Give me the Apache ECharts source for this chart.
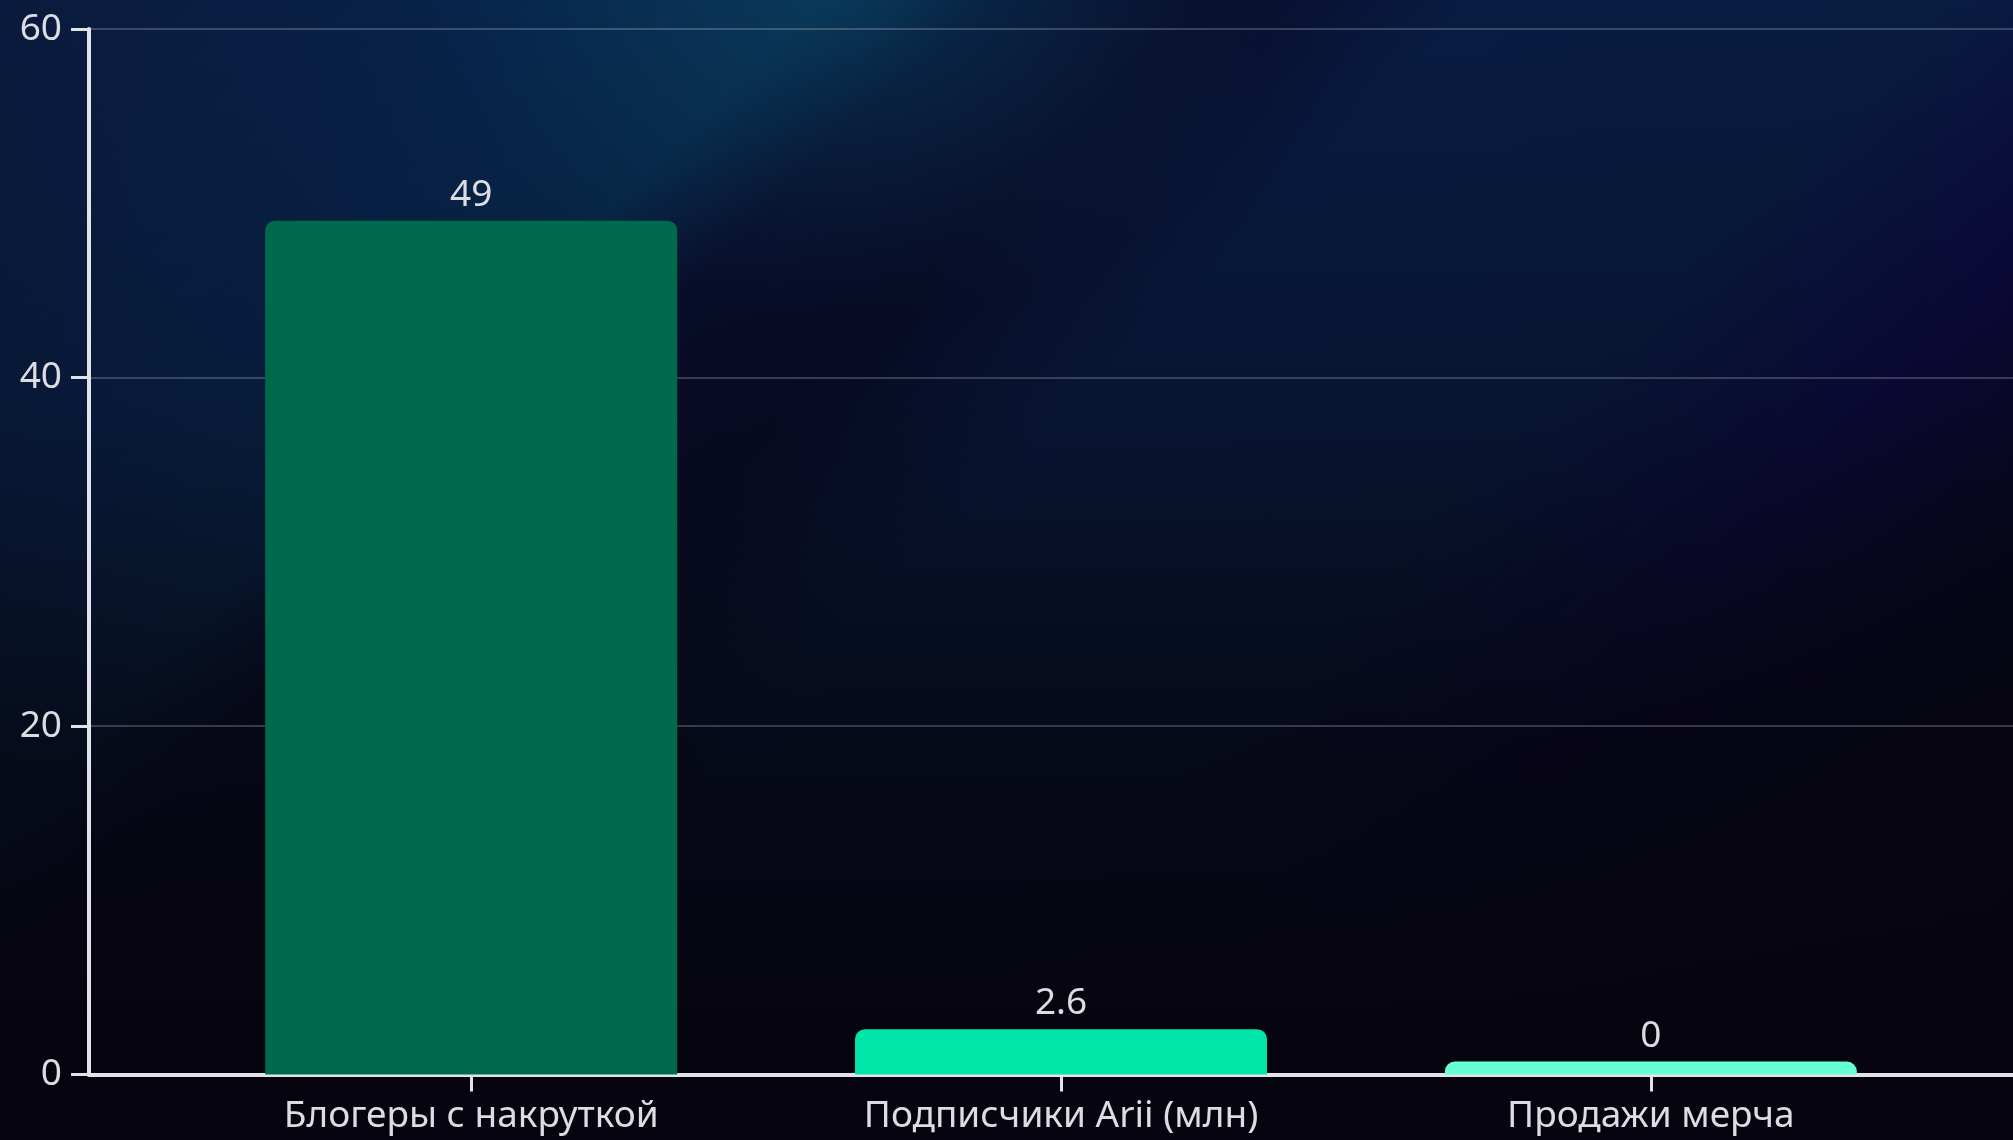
<!DOCTYPE html>
<html>
<head>
    <meta charset="utf-8">
    <title></title>
    <script type="text/javascript" src="https://cdn.jsdelivr.net/npm/echarts@6/dist/echarts.min.js"></script>
    <style>
        html, body { margin: 0; padding: 0; }
        #main {
            width: 2013px;
            height: 1140px;
            background:
                linear-gradient(to bottom, rgba(6,5,15,0) 0%, rgba(6,5,15,0.3) 35%, rgba(6,5,15,0.8) 65%, rgba(6,5,15,1) 90%),
                radial-gradient(ellipse 420px 320px at 850px 0px, rgba(10,70,100,0.55), rgba(10,70,100,0) 100%),
                linear-gradient(135deg, #0a1a3c 0%, #08244c 18%, #082a4e 26%, #080f30 31%, #080c2a 38%, #081c42 47%, #081c40 62%, #0c0a40 72%, #07061c 84%, #06050f 100%);
        }
    </style>
</head>
<body>

<div id="main"></div>
<script type="text/javascript">
    // данные
    var categories = ['Блогеры с накруткой', 'Подписчики Arii (млн)', 'Продажи мерча'];
    var values = [49, 2.6, 0];
    var colors = ['#006b4c', '#00e6a8', '#66ffd2'];
    var yTicks = [0, 20, 40, 60];

    var myChart = echarts.init(document.getElementById('main'));

    var barData = values.map(function (v, i) {
        return { value: [i, v], itemStyle: { color: colors[i] } };
    });

    var option = {
        backgroundColor: 'transparent',
        textStyle: { fontFamily: 'Noto Sans' },
        grid: { left: 89, right: 0, top: 29, bottom: 65.5, containLabel: false },
        xAxis: {
            type: 'value',
            min: -0.648,
            max: 2.614,
            axisLine: { show: true, onZero: false, lineStyle: { color: '#e2e3e8', width: 4 } },
            axisTick: { show: true, length: 17, lineStyle: { color: '#e2e3e8', width: 3 }, customValues: [0, 1, 2] },
            axisLabel: {
                customValues: [0, 1, 2],
                margin: 23,
                color: '#dcdde3',
                fontSize: 37,
                fontFamily: 'Noto Sans',
                formatter: function (v) { return categories[Math.round(v)]; }
            },
            splitLine: { show: false }
        },
        yAxis: {
            type: 'value',
            min: yTicks[0],
            max: yTicks[yTicks.length - 1],
            interval: 20,
            axisLine: { show: true, onZero: false, lineStyle: { color: '#e2e3e8', width: 4 } },
            axisTick: { show: true, length: 18, lineStyle: { color: '#e2e3e8', width: 3 } },
            axisLabel: { margin: 27, color: '#dcdde3', fontSize: 37, fontFamily: 'Noto Sans' },
            splitLine: { show: true, lineStyle: { color: 'rgba(255,255,255,0.2)', width: 2 } }
        },
        series: [{
            type: 'bar',
            data: barData,
            barWidth: 412,
            barMinHeight: 13,
            itemStyle: { borderRadius: [10, 10, 0, 0] },
            label: {
                show: true,
                position: 'top',
                distance: 7,
                color: '#dcdde3',
                fontSize: 37,
                fontFamily: 'Noto Sans',
                formatter: function (p) { return String(values[p.dataIndex]); }
            }
        }]
    };

    myChart.setOption(option);
</script>

</body>
</html>
